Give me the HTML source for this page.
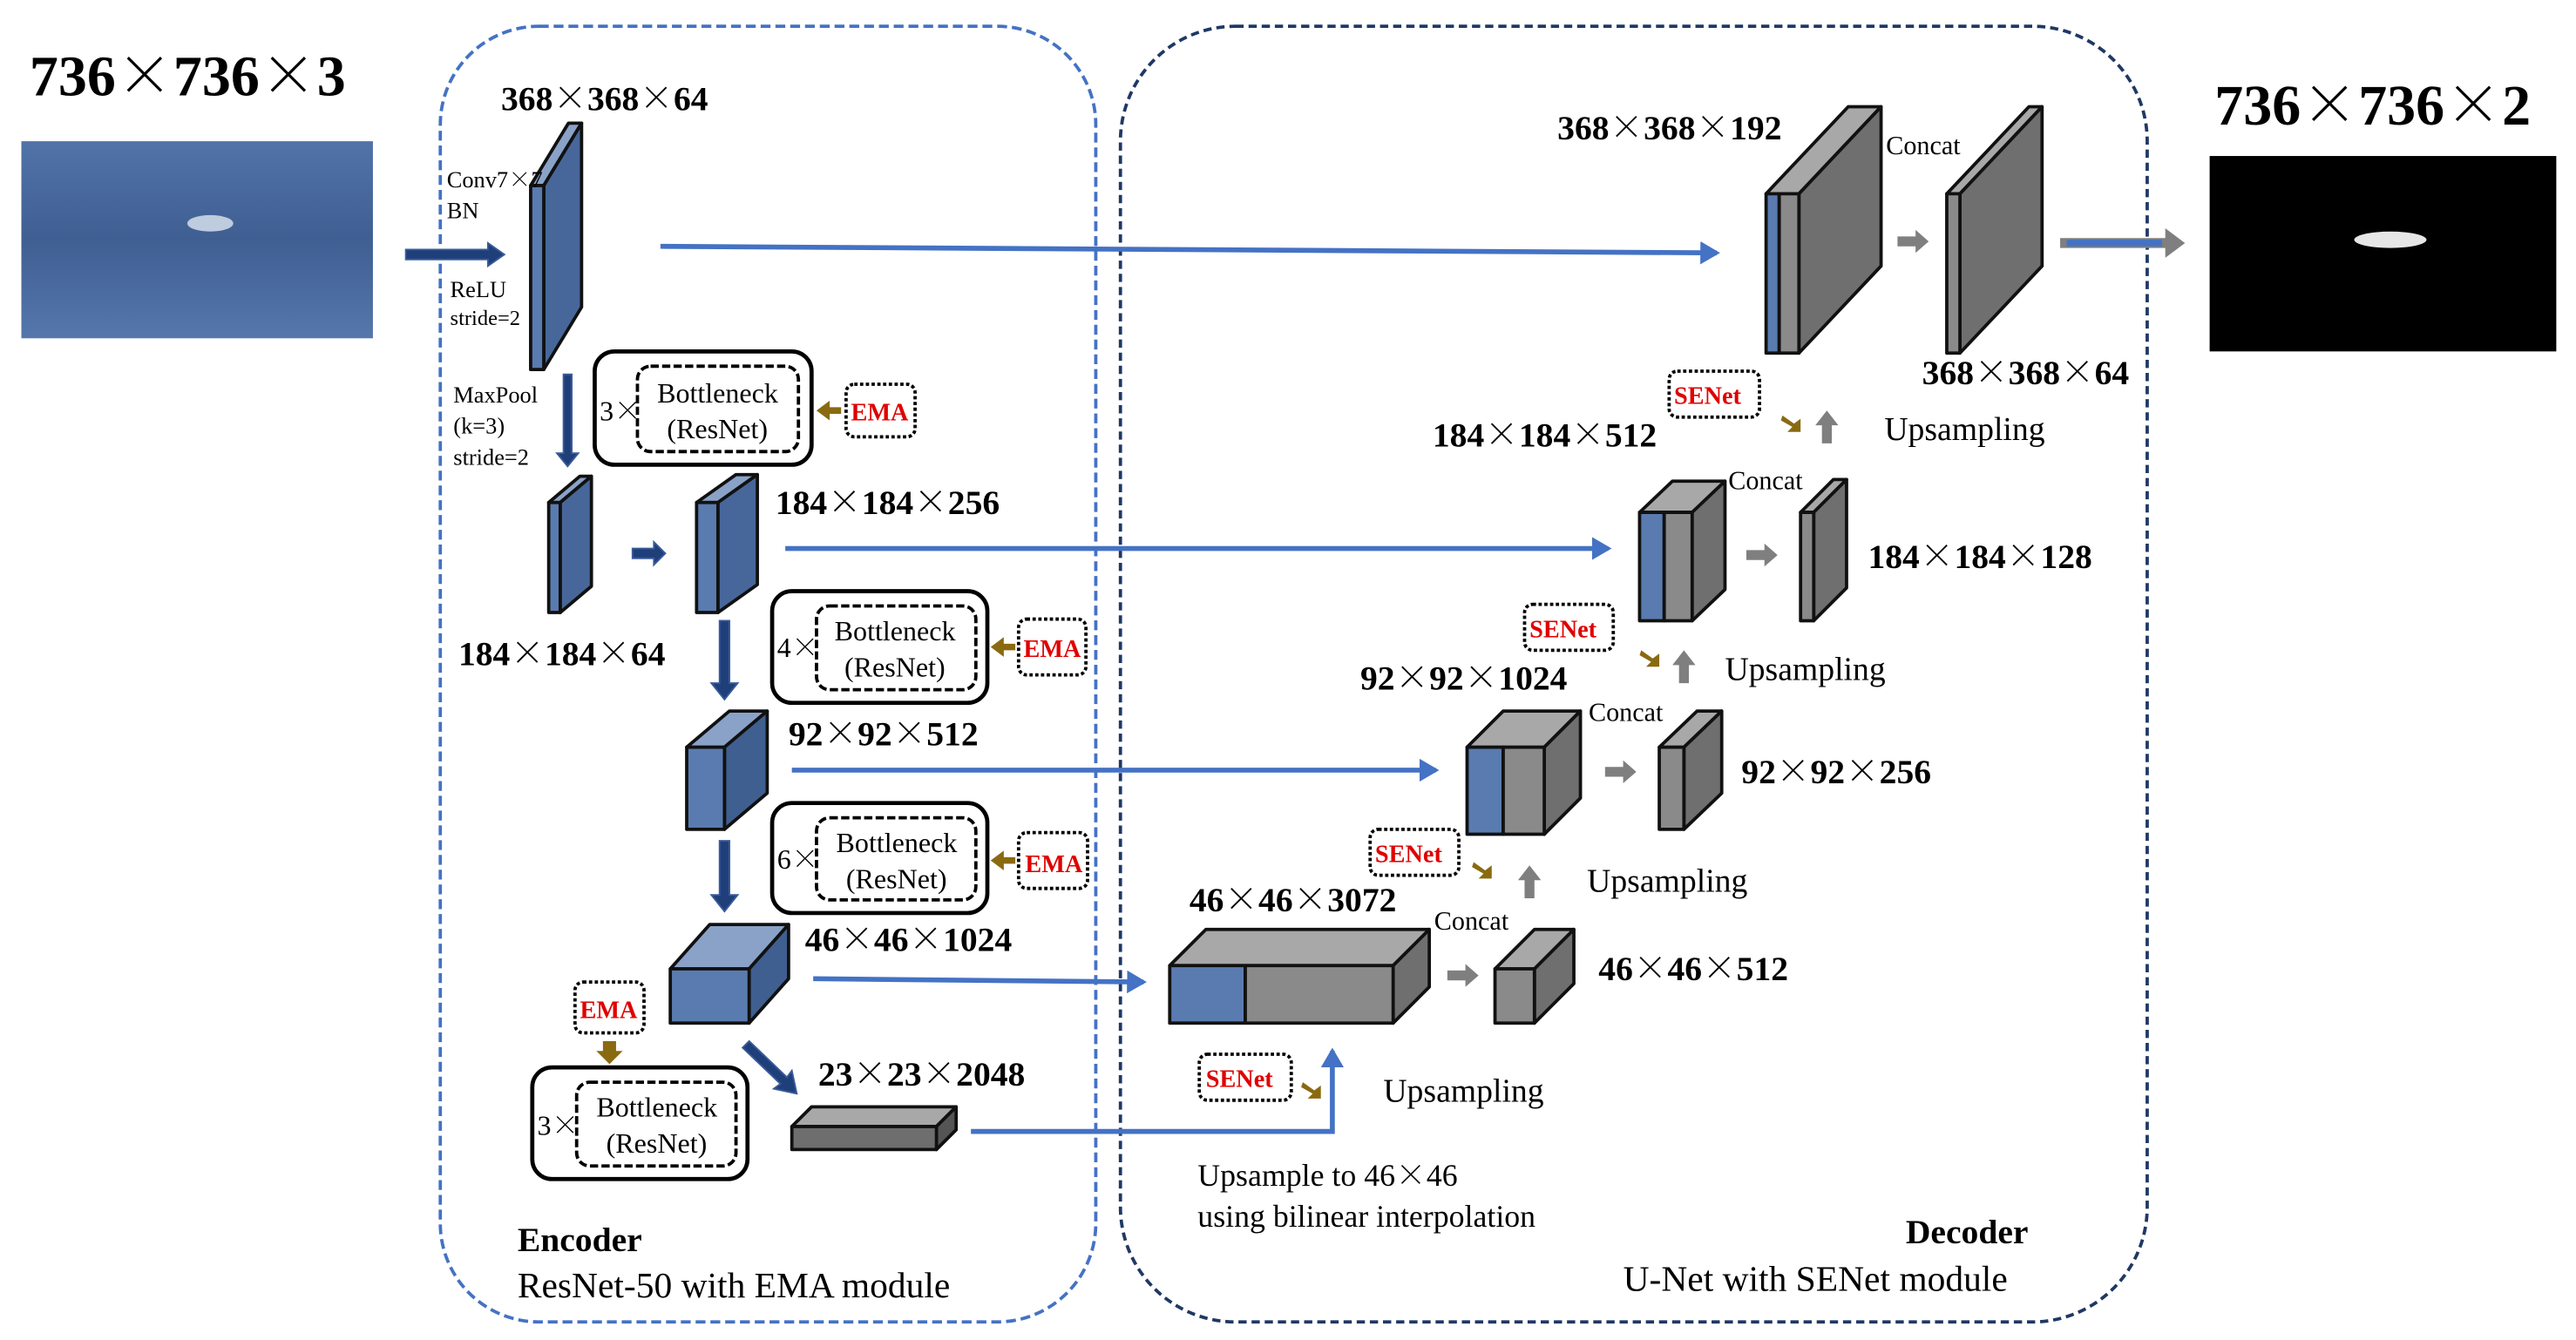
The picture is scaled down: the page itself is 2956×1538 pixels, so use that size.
<!DOCTYPE html>
<html><head><meta charset="utf-8"><style>
html,body{margin:0;padding:0;background:#fff;}
svg{display:block;}
text{font-family:"Liberation Serif","Noto Serif CJK SC","Noto Sans CJK SC",serif;}
.x{font-family:"Noto Serif CJK SC","Noto Sans CJK SC",serif;}
.b{font-weight:bold;font-size:21px;}
.n{font-size:17px;}
.s{font-size:14px;}
</style></head><body>
<svg width="2956" height="1538" viewBox="0 0 1568 816" preserveAspectRatio="none" xmlns="http://www.w3.org/2000/svg">
<defs>
<linearGradient id="sea" x1="0" y1="0" x2="0" y2="1"><stop offset="0" stop-color="#5273a8"/><stop offset="0.5" stop-color="#3f5f93"/><stop offset="1" stop-color="#5677ab"/></linearGradient>
<marker id="ah2" markerWidth="12" markerHeight="14" refX="10" refY="7" orient="auto" markerUnits="userSpaceOnUse"><path d="M0,0 L12,7 L0,14 z" fill="#4472c4"/></marker>
</defs>
<rect width="1568" height="816" fill="#fff"/>

<rect x="268" y="16" width="399" height="789" rx="60" fill="none" stroke="#4472c4" stroke-width="2" stroke-dasharray="6,3"/>
<rect x="682" y="16" width="625" height="789" rx="70" fill="none" stroke="#1f3864" stroke-width="2" stroke-dasharray="5,3"/>

<text x="18" y="58" font-weight="bold" font-size="35">736<tspan class="x">×</tspan>736<tspan class="x">×</tspan>3</text>
<rect x="13" y="86" width="214" height="120" fill="url(#sea)"/>
<ellipse cx="128" cy="136" rx="14" ry="5" fill="#dfe6f0" opacity="0.8"/>
<text x="1348" y="76" font-weight="bold" font-size="35">736<tspan class="x">×</tspan>736<tspan class="x">×</tspan>2</text>
<rect x="1345" y="95" width="211" height="119" fill="#000"/>
<ellipse cx="1455" cy="146" rx="22" ry="5" fill="#fff" opacity="0.9"/>

<g fill="#1f3f7a" stroke="#3a5a9a" stroke-width="1">
<polygon points="247,152 297,152 297,148 307,155 297,162 297,158 247,158"/>
<polygon points="343,228 348,228 348,276 352,276 345.5,284 339,276 343,276"/>
<polygon points="385,334 398,334 398,330 405,337 398,344 398,340 385,340"/>
<polygon points="438,378 444,378 444,416 449,416 441,426 433,416 438,416"/>
<polygon points="438,512 444,512 444,545 449,545 441,555 433,545 438,545"/>
<polygon points="452,638 456,634 479,656 482,652 485,666 471,663 475,660"/>
</g>

<g stroke="#4472c4" stroke-width="3" fill="none">
<line x1="402" y1="150" x2="1045" y2="154" marker-end="url(#ah2)"/>
<line x1="478" y1="334" x2="979" y2="334" marker-end="url(#ah2)"/>
<line x1="482" y1="469" x2="874" y2="469" marker-end="url(#ah2)"/>
<line x1="495" y1="596" x2="696" y2="598" marker-end="url(#ah2)"/>
<polyline points="591,689 811,689 811,640" marker-end="url(#ah2)"/>
</g>

<g stroke="#111" stroke-width="2" stroke-linejoin="round">
<polygon points="323,113 346,75 354,75 331,113" fill="#8aa2c8"/>
<polygon points="331,113 354,75 354,187 331,225" fill="#47679a"/>
<rect x="323" y="113" width="8" height="112" fill="#5a7bb0"/>

<polygon points="334,306 353,290 360,290 341,306" fill="#8aa2c8"/>
<polygon points="341,306 360,290 360,357 341,373" fill="#47679a"/>
<rect x="334" y="306" width="7" height="67" fill="#5a7bb0"/>

<polygon points="424,306 448,289 461,289 437,306" fill="#8aa2c8"/>
<polygon points="437,306 461,289 461,356 437,373" fill="#47679a"/>
<rect x="424" y="306" width="13" height="67" fill="#5a7bb0"/>

<polygon points="418,455 444,433 467,433 441,455" fill="#8aa2c8"/>
<polygon points="441,455 467,433 467,483 441,505" fill="#3f5f90"/>
<rect x="418" y="455" width="23" height="50" fill="#5a7bb0"/>

<polygon points="408,590 432,563 480,563 456,590" fill="#8aa2c8"/>
<polygon points="456,590 480,563 480,596 456,623" fill="#3f5f90"/>
<rect x="408" y="590" width="48" height="33" fill="#5a7bb0"/>

<polygon points="482,686 494,674 582,674 570,686" fill="#a8a8a8"/>
<polygon points="570,686 582,674 582,688 570,700" fill="#555"/>
<rect x="482" y="686" width="88" height="14" fill="#6e6e6e"/>

<polygon points="1075,118 1125,65 1145,65 1095,118" fill="#a8a8a8"/>
<polygon points="1095,118 1145,65 1145,162 1095,215" fill="#6f6f6f"/>
<rect x="1075" y="118" width="8" height="97" fill="#5a7bb0"/>
<rect x="1083" y="118" width="12" height="97" fill="#8a8a8a"/>

<polygon points="1185,118 1235,65 1243,65 1193,118" fill="#a8a8a8"/>
<polygon points="1193,118 1243,65 1243,162 1193,215" fill="#6f6f6f"/>
<rect x="1185" y="118" width="8" height="97" fill="#8a8a8a"/>

<polygon points="998,312 1018,293 1050,293 1030,312" fill="#a8a8a8"/>
<polygon points="1030,312 1050,293 1050,359 1030,378" fill="#6f6f6f"/>
<rect x="998" y="312" width="15" height="66" fill="#5a7bb0"/>
<rect x="1013" y="312" width="17" height="66" fill="#8a8a8a"/>

<polygon points="1096,312 1116,292 1124,292 1104,312" fill="#a8a8a8"/>
<polygon points="1104,312 1124,292 1124,358 1104,378" fill="#6f6f6f"/>
<rect x="1096" y="312" width="8" height="66" fill="#8a8a8a"/>

<polygon points="893,455 915,433 962,433 940,455" fill="#a8a8a8"/>
<polygon points="940,455 962,433 962,486 940,508" fill="#6f6f6f"/>
<rect x="893" y="455" width="22" height="53" fill="#5a7bb0"/>
<rect x="915" y="455" width="25" height="53" fill="#8a8a8a"/>

<polygon points="1010,455 1033,433 1048,433 1025,455" fill="#a8a8a8"/>
<polygon points="1025,455 1048,433 1048,483 1025,505" fill="#6f6f6f"/>
<rect x="1010" y="455" width="15" height="50" fill="#8a8a8a"/>

<polygon points="712,588 734,566 870,566 848,588" fill="#a8a8a8"/>
<polygon points="848,588 870,566 870,601 848,623" fill="#6f6f6f"/>
<rect x="712" y="588" width="46" height="35" fill="#5a7bb0"/>
<rect x="758" y="588" width="90" height="35" fill="#8a8a8a"/>

<polygon points="910,590 934,566 958,566 934,590" fill="#a8a8a8"/>
<polygon points="934,590 958,566 958,599 934,623" fill="#6f6f6f"/>
<rect x="910" y="590" width="24" height="33" fill="#8a8a8a"/>
</g>

<g fill="#7f7f7f">
<polygon points="1155,144 1166,144 1166,140 1174,147 1166,154 1166,150 1155,150"/>
<polygon points="1063,335 1074,335 1074,331 1082,338 1074,345 1074,341 1063,341"/>
<polygon points="977,467 988,467 988,463 996,470 988,477 988,473 977,473"/>
<polygon points="881,591 892,591 892,587 900,594 892,601 892,597 881,597"/>
<polygon points="1254,145 1318,145 1318,139 1330,148 1318,157 1318,151 1254,151"/>
<polygon points="1109,270 1109,259 1105,259 1112,250 1119,259 1115,259 1115,270"/>
<polygon points="1022,416 1022,405 1018,405 1025,396 1032,405 1028,405 1028,416"/>
<polygon points="928,547 928,536 924,536 931,527 938,536 934,536 934,547"/>
</g>
<rect x="1258" y="146" width="58" height="4" fill="#4472c4"/>

<g fill="#8a6a10">
<polygon points="497,250 505,244 505,248 512,248 512,252 505,252 505,256"/>
<polygon points="603,394 611,388 611,392 618,392 618,396 611,396 611,400"/>
<polygon points="603,524 611,518 611,522 618,522 618,526 611,526 611,530"/>
<polygon points="367,634 375,634 375,640 379,640 371,648 363,640 367,640"/>
<polygon points="1085,253 1092,258 1096,255 1096,263 1088,263 1091,260 1084,256"/>
<polygon points="999,396 1006,401 1010,398 1010,406 1002,406 1005,403 998,399"/>
<polygon points="897,525 904,530 908,527 908,535 900,535 903,532 896,528"/>
<polygon points="793,659 800,664 804,661 804,669 796,669 799,666 792,662"/>
</g>

<g fill="none" stroke="#000">
<rect x="362" y="214" width="132" height="69" rx="12" stroke-width="2.5"/>
<rect x="388" y="223" width="98" height="52" rx="8" stroke-width="2" stroke-dasharray="5,2"/>
<rect x="470" y="360" width="131" height="68" rx="12" stroke-width="2.5"/>
<rect x="497" y="369" width="97" height="51" rx="8" stroke-width="2" stroke-dasharray="5,2"/>
<rect x="470" y="489" width="131" height="67" rx="12" stroke-width="2.5"/>
<rect x="497" y="498" width="97" height="50" rx="8" stroke-width="2" stroke-dasharray="5,2"/>
<rect x="324" y="650" width="131" height="68" rx="12" stroke-width="2.5"/>
<rect x="351" y="659" width="97" height="51" rx="8" stroke-width="2" stroke-dasharray="5,2"/>
<g stroke-width="2" stroke-dasharray="2,1.5">
<rect x="515" y="234" width="42" height="32" rx="5"/>
<rect x="620" y="377" width="41" height="34" rx="5"/>
<rect x="620" y="507" width="42" height="34" rx="5"/>
<rect x="350" y="598" width="42" height="31" rx="5"/>
<rect x="1016" y="226" width="55" height="28" rx="5"/>
<rect x="928" y="368" width="54" height="28" rx="5"/>
<rect x="834" y="505" width="54" height="28" rx="5"/>
<rect x="730" y="642" width="56" height="28" rx="5"/>
</g>
</g>

<g class="n">
<text x="365" y="256">3<tspan class="x">×</tspan></text><text x="400" y="245">Bottleneck</text><text x="406" y="267">(ResNet)</text>
<text x="473" y="400">4<tspan class="x">×</tspan></text><text x="508" y="390">Bottleneck</text><text x="514" y="412">(ResNet)</text>
<text x="473" y="529">6<tspan class="x">×</tspan></text><text x="509" y="519">Bottleneck</text><text x="515" y="541">(ResNet)</text>
<text x="327" y="691">3<tspan class="x">×</tspan></text><text x="363" y="680">Bottleneck</text><text x="369" y="702">(ResNet)</text>
</g>
<g font-weight="bold" fill="#e00000" font-size="15">
<text x="518" y="256">EMA</text><text x="623" y="400">EMA</text><text x="624" y="531">EMA</text><text x="353" y="620">EMA</text>
<text x="1019" y="246">SENet</text><text x="931" y="388">SENet</text><text x="837" y="525">SENet</text><text x="734" y="662">SENet</text>
</g>

<g class="s">
<text x="272" y="114">Conv7<tspan class="x">×</tspan>7</text><text x="272" y="133">BN</text>
<text x="274" y="181">ReLU</text><text x="274" y="198" font-size="13">stride=2</text>
<text x="276" y="245">MaxPool</text><text x="276" y="264">(k=3)</text><text x="276" y="283">stride=2</text>
</g>

<g class="b">
<text x="305" y="67">368<tspan class="x">×</tspan>368<tspan class="x">×</tspan>64</text>
<text x="472" y="313">184<tspan class="x">×</tspan>184<tspan class="x">×</tspan>256</text>
<text x="279" y="405">184<tspan class="x">×</tspan>184<tspan class="x">×</tspan>64</text>
<text x="480" y="454">92<tspan class="x">×</tspan>92<tspan class="x">×</tspan>512</text>
<text x="490" y="579">46<tspan class="x">×</tspan>46<tspan class="x">×</tspan>1024</text>
<text x="498" y="661">23<tspan class="x">×</tspan>23<tspan class="x">×</tspan>2048</text>
<text x="948" y="85">368<tspan class="x">×</tspan>368<tspan class="x">×</tspan>192</text>
<text x="1170" y="234">368<tspan class="x">×</tspan>368<tspan class="x">×</tspan>64</text>
<text x="872" y="272">184<tspan class="x">×</tspan>184<tspan class="x">×</tspan>512</text>
<text x="1137" y="346">184<tspan class="x">×</tspan>184<tspan class="x">×</tspan>128</text>
<text x="828" y="420">92<tspan class="x">×</tspan>92<tspan class="x">×</tspan>1024</text>
<text x="1060" y="477">92<tspan class="x">×</tspan>92<tspan class="x">×</tspan>256</text>
<text x="724" y="555">46<tspan class="x">×</tspan>46<tspan class="x">×</tspan>3072</text>
<text x="973" y="597">46<tspan class="x">×</tspan>46<tspan class="x">×</tspan>512</text>
</g>

<g font-size="16">
<text x="1148" y="94">Concat</text><text x="1052" y="298">Concat</text><text x="967" y="439">Concat</text><text x="873" y="566">Concat</text>
</g>
<g font-size="20">
<text x="1147" y="268">Upsampling</text><text x="1050" y="414">Upsampling</text><text x="966" y="543">Upsampling</text><text x="842" y="671">Upsampling</text>
<text x="729" y="722" font-size="19">Upsample to 46<tspan class="x">×</tspan>46</text>
<text x="729" y="747" font-size="19">using bilinear interpolation</text>
<text x="315" y="762" font-weight="bold" font-size="21">Encoder</text>
<text x="315" y="790" font-size="22">ResNet-50 with EMA module</text>
<text x="1160" y="757" font-weight="bold" font-size="21">Decoder</text>
<text x="988" y="786" font-size="22">U-Net with SENet module</text>
</g>
</svg>
</body></html>
